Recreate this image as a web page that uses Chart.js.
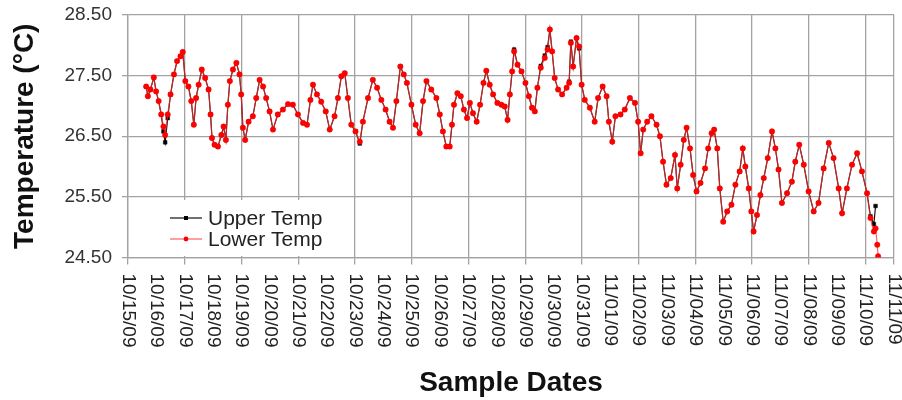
<!DOCTYPE html>
<html>
<head>
<meta charset="utf-8">
<title>Temperature</title>
<script src="https://cdn.jsdelivr.net/npm/chart.js@4.4.0/dist/chart.umd.min.js"></script>
<style>
  html, body { margin: 0; padding: 0; background: #fff; }
</style>
</head>
<body>
<canvas id="tempChart" width="902" height="400"></canvas>
<script>
/* ---- data ---- */
const dateLabels = ['10/15/09','10/16/09','10/17/09','10/18/09','10/19/09','10/20/09','10/21/09',
  '10/22/09','10/23/09','10/24/09','10/25/09','10/26/09','10/27/09','10/28/09','10/29/09',
  '10/30/09','10/31/09','11/01/09','11/02/09','11/03/09','11/04/09','11/05/09','11/06/09',
  '11/07/09','11/08/09','11/09/09','11/10/09','11/11/09'];
const gridDays = [0, 2, 4, 6, 8, 10, 12, 14, 16, 18, 20, 22, 24, 26, 27];
const yTicks = [24.5, 25.5, 26.5, 27.5, 28.5];

// days since 10/15/09 00:00
const sampleDays = [
  0.64, 0.70, 0.79, 0.91, 0.99, 1.08, 1.17, 1.25, 1.31, 1.40, 1.50, 1.62, 1.73, 1.85, 1.93, 2.02,
  2.13, 2.23, 2.32, 2.40, 2.49, 2.60, 2.72, 2.84, 2.91, 2.96, 3.05, 3.17, 3.29, 3.37, 3.45, 3.52,
  3.59, 3.70, 3.82, 3.93, 3.99, 4.05, 4.13, 4.25, 4.40, 4.52, 4.64, 4.76, 4.87, 4.99, 5.11, 5.28,
  5.46, 5.64, 5.81, 5.99, 6.17, 6.31, 6.43, 6.52, 6.66, 6.81, 6.97, 7.11, 7.28, 7.40, 7.52, 7.64,
  7.75, 7.87, 8.02, 8.17, 8.28, 8.46, 8.63, 8.78, 8.93, 9.08, 9.22, 9.34, 9.46, 9.60, 9.72, 9.83,
  9.99, 10.14, 10.28, 10.40, 10.52, 10.69,
  10.87, 10.99, 11.10, 11.22, 11.34, 11.42, 11.49, 11.61, 11.73, 11.84, 11.95, 12.05, 12.16, 12.29,
  12.41, 12.53, 12.63, 12.75, 12.87, 13.02, 13.16, 13.28, 13.38, 13.46, 13.54, 13.61, 13.73, 13.87,
  14.01, 14.13, 14.24, 14.34, 14.43, 14.55, 14.69, 14.79, 14.87, 14.95, 15.04, 15.16, 15.30, 15.46,
  15.55, 15.61, 15.69, 15.81, 15.90, 15.99, 16.10, 16.28,
  16.45, 16.57, 16.73, 16.87, 16.95, 17.07, 17.18, 17.36, 17.51, 17.69, 17.87, 17.98, 18.07, 18.16,
  18.30, 18.45, 18.63, 18.75, 18.86, 18.98, 19.13, 19.28, 19.36, 19.48, 19.59, 19.69, 19.81, 19.92,
  20.04, 20.18, 20.34, 20.45, 20.57, 20.66, 20.77, 20.86, 20.98, 21.12, 21.27, 21.41, 21.56, 21.67,
  21.76, 21.88, 21.97, 22.05, 22.17, 22.29, 22.41, 22.55, 22.70, 22.82, 22.93, 23.05, 23.23, 23.40,
  23.52, 23.66, 23.82, 23.99, 24.17, 24.34, 24.52, 24.70, 24.87, 25.05, 25.17, 25.34, 25.52, 25.70,
  25.87, 26.05, 26.17, 26.29, 26.35, 26.41, 26.44
];

const upperTemp = [
  27.32, 27.16, 27.27, 27.47, 27.24, 27.08, 26.86, 26.58, 26.40, 26.80, 27.19, 27.52, 27.74, 27.82, 27.89, 27.41,
  27.32, 27.08, 26.69, 27.13, 27.35, 27.60, 27.46, 27.27, 26.86, 26.47, 26.36, 26.33, 26.52, 26.66, 26.44, 27.02,
  27.41, 27.60, 27.71, 27.52, 27.19, 26.64, 26.44, 26.74, 26.83, 27.13, 27.43, 27.32, 27.13, 26.91, 26.61, 26.86,
  26.94, 27.03, 27.02, 26.86, 26.72, 26.69, 27.10, 27.35, 27.19, 27.07, 26.91, 26.61, 26.83, 27.13, 27.49, 27.54,
  27.13, 26.69, 26.58, 26.38, 26.74, 27.13, 27.43, 27.30, 27.10, 26.94, 26.74, 26.64, 27.08, 27.65, 27.52, 27.38,
  27.02, 26.69, 26.55, 27.08, 27.41, 27.27,
  27.13, 26.86, 26.58, 26.33, 26.33, 26.69, 27.02, 27.21, 27.16, 26.94, 26.80, 27.05, 26.88, 26.74,
  27.02, 27.38, 27.58, 27.35, 27.19, 27.05, 27.02, 26.99, 26.77, 27.19, 27.57, 27.93, 27.68, 27.57,
  27.38, 27.16, 26.97, 26.91, 27.30, 27.66, 27.83, 27.97, 28.26, 27.90, 27.46, 27.27, 27.19, 27.30,
  27.40, 28.06, 27.65, 28.12, 27.95, 27.35, 27.10, 26.97,
  26.74, 27.13, 27.32, 27.16, 26.74, 26.41, 26.83, 26.86, 26.94, 27.13, 27.05, 26.74, 26.22, 26.61,
  26.74, 26.83, 26.69, 26.50, 26.08, 25.70, 25.81, 26.19, 25.64, 26.03, 26.44, 26.64, 26.30, 25.86,
  25.59, 25.73, 25.97, 26.30, 26.55, 26.61, 26.30, 25.64, 25.09, 25.26, 25.37, 25.70, 25.92, 26.30,
  26.00, 25.64, 25.26, 24.93, 25.20, 25.53, 25.81, 26.14, 26.58, 26.30, 25.95, 25.40, 25.56, 25.75,
  26.08, 26.36, 26.03, 25.59, 25.26, 25.40, 25.97, 26.39, 26.14, 25.64, 25.23, 25.64, 26.03, 26.22,
  25.92, 25.56, 25.18, 25.05, 25.35, null, null
];

const lowerTemp = [
  27.32, 27.16, 27.27, 27.47, 27.24, 27.08, 26.86, 26.66, 26.52, 26.86, 27.19, 27.52, 27.74, 27.82, 27.89, 27.41,
  27.32, 27.08, 26.69, 27.13, 27.35, 27.60, 27.46, 27.27, 26.86, 26.47, 26.36, 26.33, 26.52, 26.66, 26.44, 27.02,
  27.41, 27.60, 27.71, 27.52, 27.19, 26.64, 26.44, 26.74, 26.83, 27.13, 27.43, 27.32, 27.13, 26.91, 26.61, 26.86,
  26.94, 27.03, 27.02, 26.86, 26.72, 26.69, 27.10, 27.35, 27.19, 27.07, 26.91, 26.61, 26.83, 27.13, 27.49, 27.54,
  27.13, 26.69, 26.58, 26.41, 26.74, 27.13, 27.43, 27.30, 27.10, 26.94, 26.74, 26.64, 27.08, 27.65, 27.52, 27.38,
  27.02, 26.69, 26.55, 27.08, 27.41, 27.27,
  27.13, 26.86, 26.58, 26.33, 26.33, 26.69, 27.02, 27.21, 27.16, 26.94, 26.80, 27.05, 26.88, 26.74,
  27.02, 27.38, 27.58, 27.35, 27.19, 27.05, 27.02, 26.99, 26.77, 27.19, 27.57, 27.90, 27.68, 27.57,
  27.38, 27.16, 26.97, 26.91, 27.30, 27.63, 27.79, 27.93, 28.26, 27.90, 27.46, 27.27, 27.19, 27.30,
  27.38, 28.04, 27.65, 28.12, 27.98, 27.35, 27.10, 26.97,
  26.74, 27.13, 27.32, 27.16, 26.74, 26.41, 26.83, 26.86, 26.94, 27.13, 27.05, 26.74, 26.22, 26.61,
  26.74, 26.83, 26.69, 26.50, 26.08, 25.70, 25.81, 26.19, 25.64, 26.03, 26.44, 26.64, 26.30, 25.86,
  25.59, 25.73, 25.97, 26.30, 26.55, 26.61, 26.30, 25.64, 25.09, 25.26, 25.37, 25.70, 25.92, 26.30,
  26.00, 25.64, 25.26, 24.93, 25.20, 25.53, 25.81, 26.14, 26.58, 26.30, 25.95, 25.40, 25.56, 25.75,
  26.08, 26.36, 26.03, 25.59, 25.26, 25.40, 25.97, 26.39, 26.14, 25.64, 25.23, 25.64, 26.03, 26.22,
  25.92, 25.56, 25.15, 24.93, 24.98, 24.71, 24.52
];

const FONT = '"Liberation Sans", Arial, sans-serif';
const GRID = '#a3a3a3';

const toPoints = vals => sampleDays.map((d, i) => ({ x: d, y: vals[i] }));

/* rotated date labels (read top to bottom) */
const dateLabelPlugin = {
  id: 'dateLabels',
  afterDraw(chart) {
    const { ctx } = chart;
    const x = chart.scales.x;
    ctx.save();
    ctx.font = '19px ' + FONT;
    ctx.fillStyle = '#222';
    ctx.textAlign = 'left';
    ctx.textBaseline = 'middle';
    dateLabels.forEach((lab, i) => {
      ctx.save();
      ctx.translate(x.getPixelForValue(i), x.top + 16);
      ctx.rotate(Math.PI / 2);
      ctx.fillText(lab, 0, 0);
      ctx.restore();
    });
    ctx.restore();
  }
};

/* legend sitting inside the plot, lower left */
const insideLegend = {
  id: 'insideLegend',
  afterDatasetsDraw(chart) {
    const { ctx } = chart;
    ctx.save();
    ctx.fillStyle = '#fff';
    ctx.fillRect(133, 200, 206, 56);
    chart.data.datasets.forEach((ds, i) => {
      const y = 218 + i * 21;
      ctx.strokeStyle = ds.borderColor;
      ctx.lineWidth = 1.2;
      ctx.beginPath();
      ctx.moveTo(170, y);
      ctx.lineTo(202, y);
      ctx.stroke();
      ctx.fillStyle = ds.pointBackgroundColor;
      if (ds.pointStyle === 'rect') {
        ctx.fillRect(184, y - 2, 4, 4);
      } else {
        ctx.beginPath();
        ctx.arc(186, y, 2.4, 0, Math.PI * 2);
        ctx.fill();
      }
      ctx.fillStyle = '#222';
      ctx.font = '21px ' + FONT;
      ctx.textBaseline = 'middle';
      ctx.fillText(ds.label, 208, y + 1);
    });
    ctx.restore();
  }
};

new Chart(document.getElementById('tempChart'), {
  type: 'line',
  data: {
    datasets: [
      {
        label: 'Upper Temp',
        data: toPoints(upperTemp),
        borderColor: '#111',
        pointBackgroundColor: '#000',
        pointBorderColor: '#000',
        borderWidth: 1.2,
        pointStyle: 'rect',
        pointRadius: 2.6,
        pointBorderWidth: 0.5,
        order: 1
      },
      {
        label: 'Lower Temp',
        data: toPoints(lowerTemp),
        borderColor: 'rgba(255,40,40,0.75)',
        pointBackgroundColor: '#ff0000',
        pointBorderColor: '#ff0000',
        borderWidth: 1.2,
        pointStyle: 'circle',
        pointRadius: 2.7,
        pointBorderWidth: 0.5,
        order: 0
      }
    ]
  },
  options: {
    responsive: false,
    animation: false,
    layout: { padding: { top: 15, right: 8, left: 0, bottom: 0 } },
    plugins: { legend: { display: false }, tooltip: { enabled: false } },
    scales: {
      x: {
        type: 'linear',
        min: 0,
        max: 27,
        afterBuildTicks: s => { s.ticks = gridDays.map(v => ({ value: v })); },
        afterFit: s => { s.height = 142.5; },
        ticks: { display: false },
        grid: { color: GRID, lineWidth: 1.3, tickLength: 7 },
        border: { color: GRID, width: 1.3 },
        title: {
          display: true,
          text: 'Sample Dates',
          color: '#111',
          font: { family: FONT, size: 28, weight: 'bold' },
          padding: { top: 0, bottom: 0 }
        }
      },
      y: {
        min: 24.5,
        max: 28.5,
        afterBuildTicks: s => { s.ticks = yTicks.map(v => ({ value: v })); },
        afterFit: s => { s.width = 128; s.paddingTop = 0; s.paddingBottom = 0; },
        ticks: {
          callback: v => Number(v).toFixed(2),
          color: '#333',
          font: { family: FONT, size: 19 },
          padding: 10
        },
        grid: { color: GRID, lineWidth: 1.3, tickLength: 6 },
        border: { color: GRID, width: 1.3 },
        title: {
          display: true,
          text: 'Temperature (°C)',
          color: '#111',
          font: { family: FONT, size: 28, weight: 'bold' },
          padding: { top: 8, bottom: 0 }
        }
      }
    }
  },
  plugins: [insideLegend, dateLabelPlugin]
});
</script>
</body>
</html>
